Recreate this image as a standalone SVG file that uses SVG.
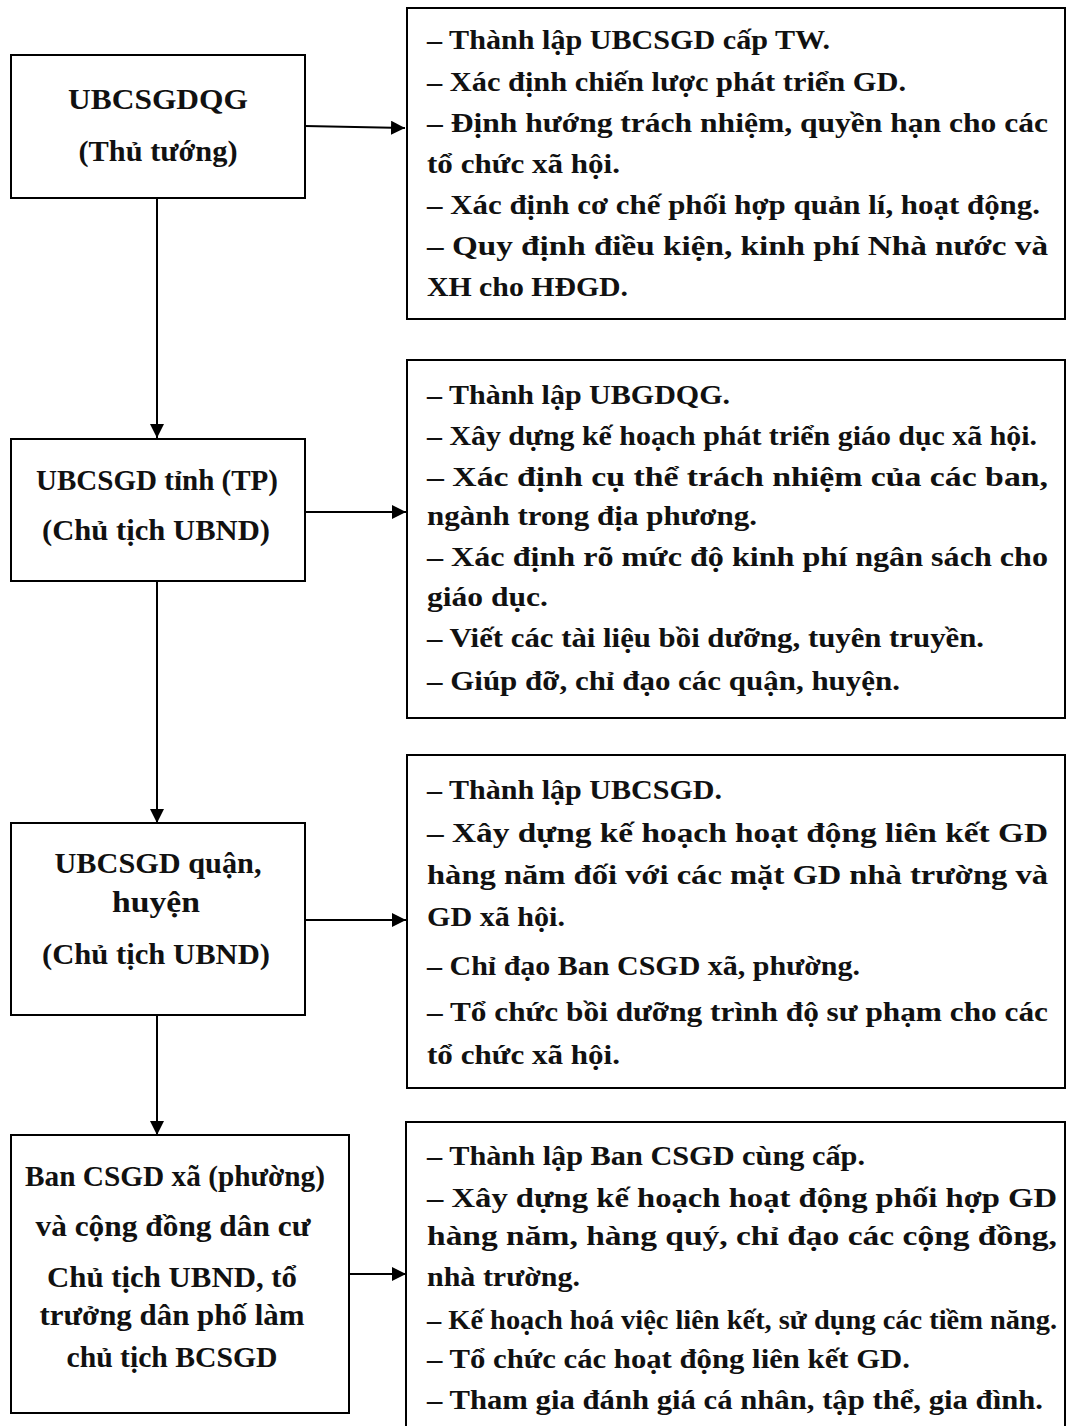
<svg xmlns="http://www.w3.org/2000/svg" width="1067" height="1426" viewBox="0 0 1067 1426">
<style>
.box{fill:#fff;stroke:#000;stroke-width:2}
.t{font-family:"Liberation Serif","DejaVu Serif",serif;font-size:28px;font-weight:bold;fill:#111}
.c{text-anchor:middle;font-size:29px}
.ln{stroke:#000;stroke-width:2;fill:none}
</style>
<defs>
<marker id="ah" viewBox="0 0 14 14" refX="14" refY="7" markerWidth="14" markerHeight="14" markerUnits="userSpaceOnUse" orient="auto">
<path d="M0,0 L14,7 L0,14 Z" fill="#000"/>
</marker>
</defs>
<rect width="1067" height="1426" fill="#fff"/>
<g id="connectors">
<line class="ln" x1="305" y1="126" x2="405" y2="128" marker-end="url(#ah)"/>
<line class="ln" x1="157" y1="198" x2="157" y2="438" marker-end="url(#ah)"/>
<line class="ln" x1="305" y1="512" x2="406" y2="512" marker-end="url(#ah)"/>
<line class="ln" x1="157" y1="582" x2="157" y2="823" marker-end="url(#ah)"/>
<line class="ln" x1="305" y1="920" x2="406" y2="920" marker-end="url(#ah)"/>
<line class="ln" x1="157" y1="1015" x2="157" y2="1135" marker-end="url(#ah)"/>
<line class="ln" x1="349" y1="1274" x2="406" y2="1274" marker-end="url(#ah)"/>
</g>
<g id="n1">
<rect class="box" x="11" y="55" width="294" height="143"/>
<text class="t c" x="158" y="109" textLength="180" lengthAdjust="spacingAndGlyphs">UBCSGDQG</text>
<text class="t c" x="158" y="161" textLength="159" lengthAdjust="spacingAndGlyphs">(Thủ tướng)</text>
</g>
<g id="n2">
<rect class="box" x="11" y="439" width="294" height="142"/>
<text class="t c" x="157" y="490" textLength="242" lengthAdjust="spacingAndGlyphs">UBCSGD tỉnh (TP)</text>
<text class="t c" x="156" y="540" textLength="228" lengthAdjust="spacingAndGlyphs">(Chủ tịch UBND)</text>
</g>
<g id="n3">
<rect class="box" x="11" y="823" width="294" height="192"/>
<text class="t c" x="158" y="873" textLength="207" lengthAdjust="spacingAndGlyphs">UBCSGD quận,</text>
<text class="t c" x="156" y="912" textLength="88" lengthAdjust="spacingAndGlyphs">huyện</text>
<text class="t c" x="156" y="964" textLength="228" lengthAdjust="spacingAndGlyphs">(Chủ tịch UBND)</text>
</g>
<g id="n4">
<rect class="box" x="11" y="1135" width="338" height="278"/>
<text class="t c" x="175" y="1186" textLength="300" lengthAdjust="spacingAndGlyphs">Ban CSGD xã (phường)</text>
<text class="t c" x="173" y="1236" textLength="275" lengthAdjust="spacingAndGlyphs">và cộng đồng dân cư</text>
<text class="t c" x="172" y="1287" textLength="250" lengthAdjust="spacingAndGlyphs">Chủ tịch UBND, tổ</text>
<text class="t c" x="172" y="1325" textLength="265" lengthAdjust="spacingAndGlyphs">trưởng dân phố làm</text>
<text class="t c" x="172" y="1367" textLength="211" lengthAdjust="spacingAndGlyphs">chủ tịch BCSGD</text>
</g>
<g id="r1">
<rect class="box" x="407" y="8" width="658" height="311"/>
<text class="t" x="427" y="49" textLength="403" lengthAdjust="spacingAndGlyphs">– Thành lập UBCSGD cấp TW.</text>
<text class="t" x="427" y="91" textLength="479" lengthAdjust="spacingAndGlyphs">– Xác định chiến lược phát triển GD.</text>
<text class="t" x="427" y="132" textLength="621" lengthAdjust="spacingAndGlyphs">– Định hướng trách nhiệm, quyền hạn cho các</text>
<text class="t" x="427" y="173" textLength="193" lengthAdjust="spacingAndGlyphs">tổ chức xã hội.</text>
<text class="t" x="427" y="214" textLength="613" lengthAdjust="spacingAndGlyphs">– Xác định cơ chế phối hợp quản lí, hoạt động.</text>
<text class="t" x="427" y="255" textLength="621" lengthAdjust="spacingAndGlyphs">– Quy định điều kiện, kinh phí Nhà nước và</text>
<text class="t" x="427" y="296" textLength="201" lengthAdjust="spacingAndGlyphs">XH cho HĐGD.</text>
</g>
<g id="r2">
<rect class="box" x="407" y="360" width="658" height="358"/>
<text class="t" x="427" y="404" textLength="303" lengthAdjust="spacingAndGlyphs">– Thành lập UBGDQG.</text>
<text class="t" x="427" y="445" textLength="610" lengthAdjust="spacingAndGlyphs">– Xây dựng kế hoạch phát triển giáo dục xã hội.</text>
<text class="t" x="427" y="486" textLength="621" lengthAdjust="spacingAndGlyphs">– Xác định cụ thể trách nhiệm của các ban,</text>
<text class="t" x="427" y="525" textLength="330" lengthAdjust="spacingAndGlyphs">ngành trong địa phương.</text>
<text class="t" x="427" y="566" textLength="621" lengthAdjust="spacingAndGlyphs">– Xác định rõ mức độ kinh phí ngân sách cho</text>
<text class="t" x="427" y="606" textLength="121" lengthAdjust="spacingAndGlyphs">giáo dục.</text>
<text class="t" x="427" y="647" textLength="557" lengthAdjust="spacingAndGlyphs">– Viết các tài liệu bồi dưỡng, tuyên truyền.</text>
<text class="t" x="427" y="690" textLength="473" lengthAdjust="spacingAndGlyphs">– Giúp đỡ, chỉ đạo các quận, huyện.</text>
</g>
<g id="r3">
<rect class="box" x="407" y="755" width="658" height="333"/>
<text class="t" x="427" y="799" textLength="295" lengthAdjust="spacingAndGlyphs">– Thành lập UBCSGD.</text>
<text class="t" x="427" y="842" textLength="621" lengthAdjust="spacingAndGlyphs">– Xây dựng kế hoạch hoạt động liên kết GD</text>
<text class="t" x="427" y="884" textLength="621" lengthAdjust="spacingAndGlyphs">hàng năm đối với các mặt GD nhà trường và</text>
<text class="t" x="427" y="926" textLength="138" lengthAdjust="spacingAndGlyphs">GD xã hội.</text>
<text class="t" x="427" y="975" textLength="433" lengthAdjust="spacingAndGlyphs">– Chỉ đạo Ban CSGD xã, phường.</text>
<text class="t" x="427" y="1021" textLength="621" lengthAdjust="spacingAndGlyphs">– Tổ chức bồi dưỡng trình độ sư phạm cho các</text>
<text class="t" x="427" y="1064" textLength="193" lengthAdjust="spacingAndGlyphs">tổ chức xã hội.</text>
</g>
<g id="r4">
<rect class="box" x="406" y="1122" width="659" height="330"/>
<text class="t" x="427" y="1165" textLength="438" lengthAdjust="spacingAndGlyphs">– Thành lập Ban CSGD cùng cấp.</text>
<text class="t" x="427" y="1207" textLength="630" lengthAdjust="spacingAndGlyphs">– Xây dựng kế hoạch hoạt động phối hợp GD</text>
<text class="t" x="427" y="1245" textLength="630" lengthAdjust="spacingAndGlyphs">hàng năm, hàng quý, chỉ đạo các cộng đồng,</text>
<text class="t" x="427" y="1286" textLength="153" lengthAdjust="spacingAndGlyphs">nhà trường.</text>
<text class="t" x="427" y="1329" textLength="630" lengthAdjust="spacingAndGlyphs">– Kế hoạch hoá việc liên kết, sử dụng các tiềm năng.</text>
<text class="t" x="427" y="1368" textLength="483" lengthAdjust="spacingAndGlyphs">– Tổ chức các hoạt động liên kết GD.</text>
<text class="t" x="427" y="1409" textLength="616" lengthAdjust="spacingAndGlyphs">– Tham gia đánh giá cá nhân, tập thể, gia đình.</text>
</g>
</svg>
